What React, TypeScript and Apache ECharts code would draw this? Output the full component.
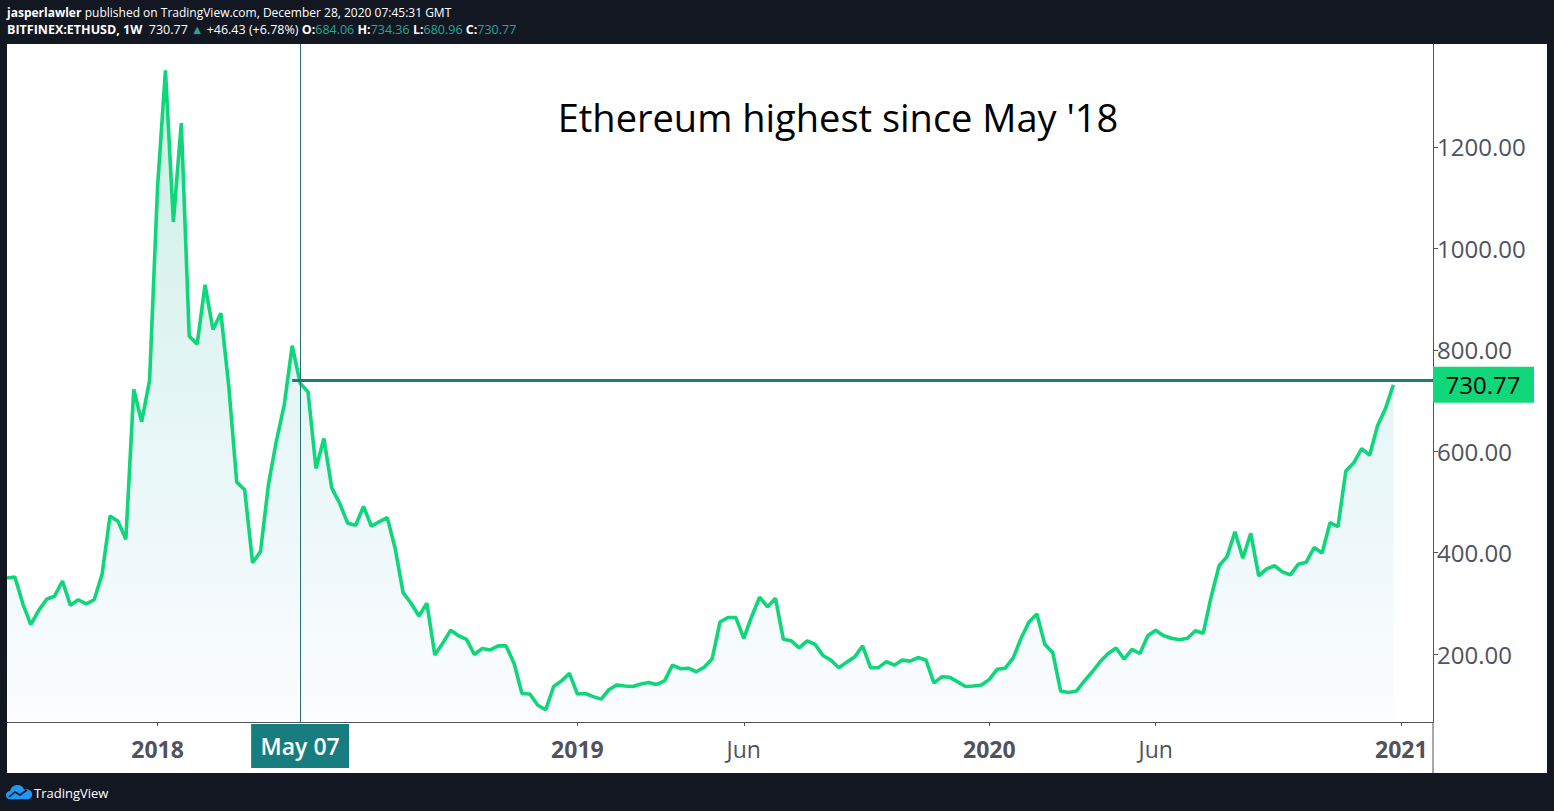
import React, { useEffect, useRef } from 'react';
import * as echarts from 'echarts';

// ---- data ----
const firstWeek = '2017-08-21';
const totalWeeks = 181; // includes empty weeks to the right of the last bar
const closes = [
  350, 352, 299, 258, 286, 308, 314, 344, 296, 307, 299, 307, 357, 472, 462, 426, 722, 658, 740, 1120,
  1351, 1052, 1247, 827, 811, 928, 840, 872, 727, 539, 524, 380, 402, 534, 620, 692, 808, 734, 717, 566,
  625, 527, 497, 458, 454, 491, 452, 461, 469, 408, 321, 300, 275, 300, 198, 221, 247, 236, 229, 199,
  211, 208, 216, 216, 182, 122, 121, 99, 90, 136, 147, 162, 121, 122, 116, 111, 130, 139, 137, 136,
  141, 144, 140, 147, 178, 171, 172, 165, 174, 190, 263, 272, 272, 231, 274, 312, 293, 310, 229, 226,
  212, 226, 219, 197, 188, 173, 184, 194, 216, 173, 173, 185, 178, 188, 186, 193, 188, 143, 155, 154,
  145, 136, 137, 139, 150, 170, 172, 192, 231, 263, 279, 219, 203, 127, 124, 127, 147, 165, 185, 201,
  212, 190, 209, 201, 236, 247, 236, 231, 228, 231, 246, 241, 313, 374, 392, 441, 389, 438, 354, 368,
  374, 362, 356, 377, 381, 410, 399, 459, 451, 561, 577, 605, 592, 650, 684, 730.77,
];
const xTickDates = ['2018-01-01', '2019-01-07', '2019-06-03', '2020-01-06', '2020-06-01', '2021-01-04'];
const xTickLabels = ['2018', '2019', 'Jun', '2020', 'Jun', '2021'];
const xTickBold = [true, true, false, true, false, true];
const yTicks = [200, 400, 600, 800, 1000, 1200];
const yMin = 65.9;
const yMax = 1403;
const lastClose = 730.77;
const levelValue = 740;
const levelStartDate = '2018-04-30';
const crosshairDate = '2018-05-07';
const crosshairLabel = 'May 07';
const titleText = "Ethereum highest since May '18";

function buildWeeks(): string[] {
  const out: string[] = [];
  const d = new Date(firstWeek + 'T00:00:00Z');
  for (let i = 0; i < totalWeeks; i++) {
    out.push(d.toISOString().slice(0, 10));
    d.setUTCDate(d.getUTCDate() + 7);
  }
  return out;
}

const FONT = 'Open Sans';

export default function App() {
  const ref = useRef<HTMLDivElement>(null);
  useEffect(() => {
    if (!ref.current) return;
    echarts.graphic.registerShape(
      'tvlogo',
      echarts.graphic.extendPath(
        'M4 16 C1.5 16 0 14 0 11.5 C0 9 2 7.2 4.3 7.3 C5 3.5 8 1 12 1 C15.5 1 18.2 3 19.2 6 C20 5.6 20.8 5.5 21.6 5.5 C25 5.5 27.5 8 27.5 11 C27.5 14 25 16 22 16 Z',
        {}
      )
    );
    const chart = echarts.init(ref.current, undefined, { renderer: 'svg' });
    const weeks = buildWeeks();
    const seriesData: (number | null)[] = weeks.map((_, i) => (i < closes.length ? closes[i] : null));
    const tickIdx = xTickDates.map((d) => weeks.indexOf(d));
    const isTick = (i: number) => tickIdx.indexOf(i) >= 0;

    const option: any = {
      animation: false,
      backgroundColor: 'transparent',
      grid: { left: 7, right: 121, top: 44, bottom: 89, containLabel: false },
      xAxis: {
        type: 'category',
        data: weeks,
        boundaryGap: false,
        axisLine: { show: true, lineStyle: { color: '#50535e', width: 1 } },
        axisTick: { show: true, interval: (i: number) => isTick(i), length: 4, lineStyle: { color: '#50535e' } },
        axisLabel: {
          interval: (i: number) => isTick(i),
          margin: 15,
          formatter: (_v: string, i: number) => {
            const k = tickIdx.indexOf(i);
            if (k < 0) return '';
            return xTickBold[k] ? '{b|' + xTickLabels[k] + '}' : '{n|' + xTickLabels[k] + '}';
          },
          rich: {
            b: { fontFamily: FONT, fontSize: 23, fontWeight: 'bold', color: '#50535e' },
            n: { fontFamily: FONT, fontSize: 23, color: '#50535e' },
          },
        },
        splitLine: { show: false },
      },
      yAxis: {
        type: 'value',
        position: 'right',
        min: yMin,
        max: yMax,
        axisLine: { show: true, lineStyle: { color: '#50535e', width: 1 } },
        axisTick: { show: true, customValues: yTicks, length: 5, lineStyle: { color: '#50535e' } },
        axisLabel: {
          customValues: yTicks,
          formatter: (v: number) => v.toFixed(2),
          fontFamily: FONT,
          fontSize: 24,
          color: '#50535e',
          margin: 4,
        },
        splitLine: { show: false },
      },
      series: [
        {
          type: 'line',
          data: seriesData,
          showSymbol: false,
          connectNulls: false,
          lineStyle: { color: '#0fd67a', width: 3.6 },
          itemStyle: { color: '#0fd67a' },
          areaStyle: {
            origin: 'start',
            color: new echarts.graphic.LinearGradient(0, 0, 0, 1, [
              { offset: 0, color: '#b3ebd6' },
              { offset: 0.35, color: '#cfefea' },
              { offset: 0.7, color: '#e6f5f9' },
              { offset: 1, color: '#fafcfe' },
            ]),
          },
          markLine: {
            silent: true,
            symbol: ['none', 'none'],
            label: { show: false },
            data: [
              { xAxis: crosshairDate, lineStyle: { color: '#2b6f73', width: 1, type: 'solid' } },
              [
                { coord: [levelStartDate, levelValue], lineStyle: { color: '#1c7c7c', width: 3, type: 'solid' } },
                { coord: [weeks[weeks.length - 1], levelValue] },
              ],
            ],
          },
        },
      ],
    };
    chart.setOption(option);

    const crossPx = chart.convertToPixel({ gridIndex: 0 }, [weeks.indexOf(crosshairDate), lastClose]) as number[];
    const pricePx = chart.convertToPixel({ gridIndex: 0 }, [weeks.length - 1, lastClose]) as number[];
    const axisX = pricePx[0];
    const gridBottom = 811 - 89;

    chart.setOption({
      graphic: [
        {
          type: 'line',
          shape: { x1: axisX, y1: gridBottom, x2: axisX, y2: 773 },
          style: { stroke: '#50535e', lineWidth: 1 },
        },
        {
          type: 'text',
          x: 838,
          y: 117,
          style: {
            text: titleText,
            font: '38px "' + FONT + '"',
            fill: '#000000',
            textAlign: 'center',
            textVerticalAlign: 'middle',
          },
        },
        {
          type: 'rect',
          shape: { x: crossPx[0] - 49, y: gridBottom + 2, width: 98, height: 44 },
          style: { fill: '#187d7e' },
          z: 100,
        },
        {
          type: 'text',
          x: crossPx[0],
          y: gridBottom + 24,
          z: 101,
          style: {
            text: crosshairLabel,
            font: '600 23px "' + FONT + '"',
            fill: '#ffffff',
            textAlign: 'center',
            textVerticalAlign: 'middle',
          },
        },
        {
          type: 'rect',
          shape: { x: axisX, y: pricePx[1] - 18, width: 101, height: 36 },
          style: { fill: '#10d77a' },
          z: 100,
        },
        {
          type: 'text',
          x: axisX + 50,
          y: pricePx[1],
          z: 101,
          style: {
            text: lastClose.toFixed(2),
            font: '24px "' + FONT + '"',
            fill: '#000000',
            textAlign: 'center',
            textVerticalAlign: 'middle',
          },
        },
        {
          type: 'text',
          x: 7,
          y: 12,
          style: {
            text: '{b|jasperlawler} {n|published on TradingView.com, December 28, 2020 07:45:31 GMT}',
            textVerticalAlign: 'middle',
            rich: {
              b: { fontFamily: FONT, fontSize: 12, fontWeight: 'bold', fill: '#ffffff' },
              n: { fontFamily: FONT, fontSize: 12, fill: '#ffffff' },
            },
          },
        },
        {
          type: 'text',
          x: 7,
          y: 29,
          style: {
            text:
              '{b|BITFINEX:ETHUSD, 1W}{n|  730.77 }{t|▲}{n| +46.43 (+6.78%) }{b|O:}{t|684.06 }{b|H:}{t|734.36 }{b|L:}{t|680.96 }{b|C:}{t|730.77}',
            textVerticalAlign: 'middle',
            rich: {
              b: { fontFamily: FONT, fontSize: 12.5, fontWeight: 'bold', fill: '#ffffff' },
              n: { fontFamily: FONT, fontSize: 12.5, fill: '#ffffff' },
              t: { fontFamily: FONT, fontSize: 12.5, fill: '#22a89a' },
            },
          },
        },
        {
          type: 'tvlogo',
          x: 6,
          y: 784,
          scaleX: 0.95,
          scaleY: 0.95,
          style: { fill: '#2196f3' },
        },
        {
          type: 'polyline',
          shape: { points: [[9, 797], [15, 792], [20, 795], [27, 790]] },
          style: { stroke: '#131722', lineWidth: 1.6, fill: 'none' },
        },
        {
          type: 'text',
          x: 34,
          y: 793,
          style: {
            text: 'TradingView',
            font: '13px "' + FONT + '"',
            fill: '#ffffff',
            textVerticalAlign: 'middle',
          },
        },
      ],
    });

    return () => chart.dispose();
  }, []);

  return (
    <div style={{ position: 'absolute', left: 0, top: 0, width: 1554, height: 811, background: '#131722' }}>
      <div style={{ position: 'absolute', left: 7, top: 44, width: 1540, height: 729, background: '#ffffff' }} />
      <div ref={ref} style={{ position: 'absolute', left: 0, top: 0, width: 1554, height: 811 }} />
    </div>
  );
}
